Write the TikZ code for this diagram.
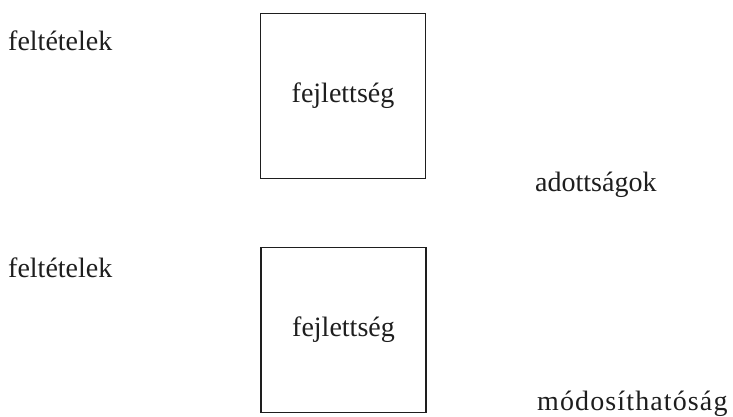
\documentclass[tikz,border=0pt]{standalone}
\usepackage{fontspec}
\setmainfont{Liberation Serif}
\usepackage{xcolor}
\definecolor{Black}{RGB}{30,30,30}
\definecolor{Frame}{RGB}{80,80,80}
\usepackage{tikz}

\begin{document}
\begin{tikzpicture}[x=1pt, y=-1pt,
		label/.style={anchor=base west, inner sep=0pt, color=Black, font=\fontsize{28}{32}\selectfont},
		block/.style={draw=Frame, line width=1.2pt, minimum width=165pt, minimum height=165pt, inner sep=0pt, color=Black, font=\fontsize{28}{32}\selectfont}]
		
		% Frame
		\useasboundingbox (0,0) rectangle (733,416);
		
		% Blocks
		\node[block] (fejl1) at (343, 96) {fejlettség};
		\node[block] (fejl2) at (343.5, 330) {fejlettség};
		
		% Names
		\node[label] (felt1) at (8, 50) {feltételek};
		\node[label] (adott) at (535, 191) {adottságok};
		\node[label] (felt2) at (8, 277) {feltételek};
		\node[label] (modos) at (537, 410) {\addfontfeature{LetterSpace=4}módosíthatóság};
		
	\end{tikzpicture}
\end{document}
